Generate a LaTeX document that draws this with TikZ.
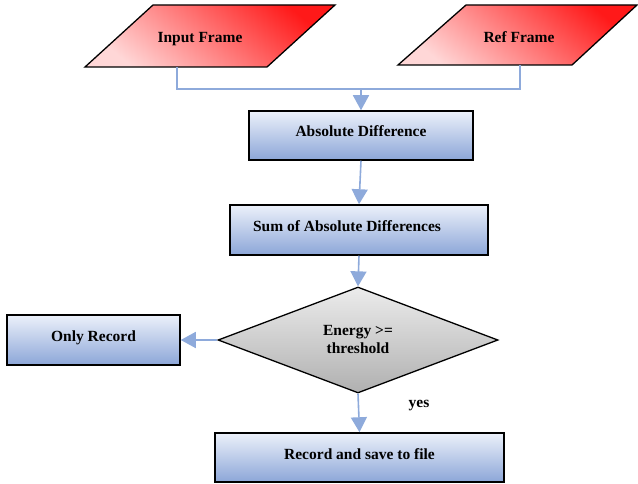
\documentclass[tikz,border=0pt]{standalone}
\usepackage{fontspec}
\setmainfont{Liberation Serif}
\usetikzlibrary{shapes.geometric,arrows.meta}
\definecolor{conn}{RGB}{142,170,219}
\definecolor{boxtop}{RGB}{236,241,250}
\definecolor{boxbot}{RGB}{140,166,216}
\definecolor{redtop}{RGB}{255,25,25}
\definecolor{redbot}{RGB}{255,215,215}
\tikzset{
  txt/.style={font=\fontsize{15.5}{18}\selectfont\bfseries, align=center},
  procbox/.style={rectangle, draw=black, line width=1.5pt, top color=boxtop, bottom color=boxbot, inner sep=0pt, txt, text height=8pt, text depth=5pt},
  iobox/.style={draw=black, line width=1.3pt, top color=redtop, bottom color=redbot, shading angle=-40},
  decision/.style={diamond, draw=black, line width=1.3pt, top color=gray!15, bottom color=gray!62, inner sep=0pt, aspect=2.64, txt},
  link/.style={draw=conn, line width=1.6pt},
  arr/.style={link, -{Triangle[width=16pt,length=15pt]}}
}
\begin{document}
\begin{tikzpicture}[x=1pt,y=-1pt]
\useasboundingbox (0,0) rectangle (638,484);
% parallelograms
\path[iobox] (153,5) -- (335,5) -- (267,67) -- (85,67) -- cycle;
\path[iobox] (466,5) -- (637,5) -- (572,65) -- (398,65) -- cycle;
\node[txt] (inp) at (200,39) {Input Frame};
\node[txt] (ref) at (519,37.5) {Ref Frame};
\coordinate (inpb) at (177,67);
\coordinate (refb) at (520,65);
\coordinate (j) at (361,89);
% process boxes
\node[procbox, minimum width=224, minimum height=49] (ad) at (361,135.5) {Absolute Difference};
\node[procbox, minimum width=258, minimum height=50] (sad) at (359,230) {\hspace*{-24pt}Sum of Absolute Differences};
\node[decision, minimum width=280, minimum height=106] (dec) at (358,340) {Energy >=\\threshold};
\node[procbox, minimum width=173, minimum height=50] (only) at (93.5,340) {Only Record};
\node[procbox, minimum width=289, minimum height=49] (rec) at (359.5,457.5) {Record and save to file};
\node[txt] (yes) at (419,406) {yes};
% connectors
\draw[link] (inpb) -- (inpb |- j) -- (refb |- j) -- (refb);
\draw[arr] (j) -- (ad.north);
\draw[arr] (ad.south) -- (sad.north);
\draw[arr] (sad.south) -- (dec.north);
\draw[arr] (dec.west) -- (only.east);
\draw[arr] (dec.south) -- (rec.north);
\end{tikzpicture}
\end{document}
